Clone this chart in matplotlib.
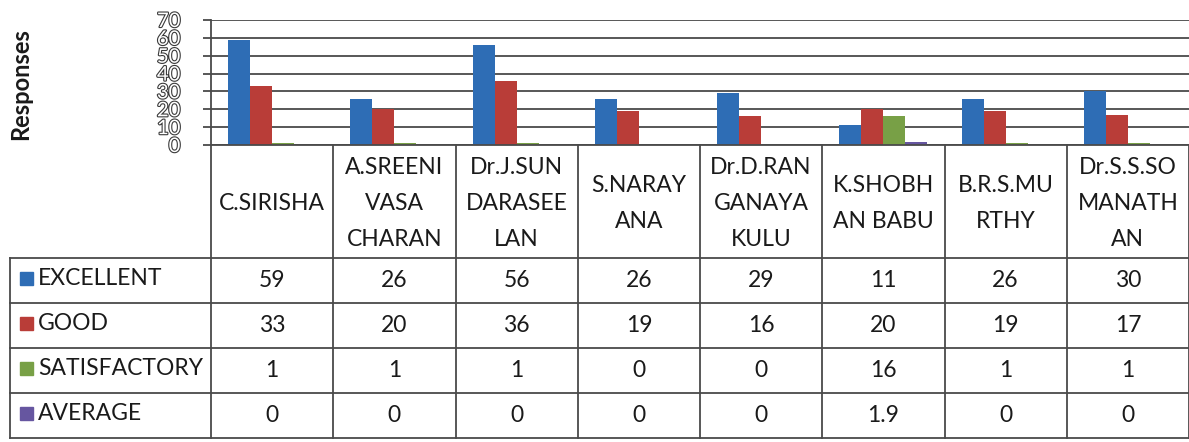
import numpy as np
import matplotlib
matplotlib.use('Agg')
import matplotlib.pyplot as plt
import matplotlib.patheffects as pe

faculty = ['C.SIRISHA', 'A.SREENI\nVASA\nCHARAN', 'Dr.J.SUN\nDARASEE\nLAN', 'S.NARAY\nANA',
           'Dr.D.RAN\nGANAYA\nKULU', 'K.SHOBH\nAN BABU', 'B.R.S.MU\nRTHY', 'Dr.S.S.SO\nMANATH\nAN']
series = ['EXCELLENT', 'GOOD', 'SATISFACTORY', 'AVERAGE']
excellent = [59, 26, 56, 26, 29, 11, 26, 30]
good = [33, 20, 36, 19, 16, 20, 19, 17]
satisfactory = [1, 1, 1, 0, 0, 16, 1, 1]
average = [0, 0, 0, 0, 0, 1.9, 0, 0]
yticks = [0, 10, 20, 30, 40, 50, 60, 70]

colors = ['#2E6DB5', '#B93D38', '#78A046', '#6656A0']
line_col = '#4a4a4a'
txt_col = '#1a1a1a'
FONT = 'Lato'

W, H = 1189, 442
x0, x1 = 211, 1189          # plot area left/right (px)
y_top, y_zero = 20, 145     # plot area top/bottom (px)
hdr_bot = 258               # bottom of header row
row_h = 45
leg_left = 10

fig = plt.figure(figsize=(W / 100, H / 100), dpi=100)

# bar chart
ax = fig.add_axes([x0 / W, 1 - y_zero / H, (x1 - x0) / W, (y_zero - y_top) / H])
vals = [excellent, good, satisfactory, average]
xs = np.arange(len(faculty))
bw = 0.18
for i, v in enumerate(vals):
    ax.bar(xs + (i - 1.5) * bw, v, bw, color=colors[i], zorder=3)
ax.set_xlim(-0.5, len(faculty) - 0.5)
ax.set_ylim(0, 70)
ax.set_yticks(yticks)
ax.set_xticks([])
ax.grid(axis='y', color=line_col, linewidth=1.3, zorder=0)
for s in ['top', 'right', 'bottom']:
    ax.spines[s].set_visible(False)
ax.spines['left'].set_color(line_col)
ax.spines['left'].set_linewidth(1.3)
ax.tick_params(axis='y', length=6, width=1.3, color=line_col, pad=16)
for lab in ax.get_yticklabels():
    lab.set_fontfamily(FONT)
    lab.set_fontsize(14.5)
    lab.set_color('white')
    lab.set_path_effects([pe.withStroke(linewidth=1.6, foreground='#3a3a3a')])

fig.text(21 / W, 1 - 84 / H, 'Responses', rotation=90, ha='center', va='center',
         fontsize=17, fontweight='bold', family=FONT, color=txt_col)

# data table drawn underneath in pixel coordinates
tab = fig.add_axes([0, 0, 1, 1])
tab.set_xlim(0, W)
tab.set_ylim(H, 0)
tab.axis('off')
tab.patch.set_alpha(0)

ncol = len(faculty)
cw = (x1 - x0) / ncol
col_edges = [x0 + k * cw for k in range(ncol + 1)]
row_edges = [hdr_bot + k * row_h for k in range(len(series) + 1)]
lw = 1.3

# vertical lines
for k, xe in enumerate(col_edges):
    tab.plot([xe, xe], [y_zero, row_edges[-1]], color=line_col, lw=lw)
tab.plot([leg_left, leg_left], [hdr_bot, row_edges[-1]], color=line_col, lw=lw)
# horizontal lines
tab.plot([x0, x1], [y_zero, y_zero], color=line_col, lw=lw)
for ye in row_edges:
    tab.plot([leg_left, x1], [ye, ye], color=line_col, lw=lw)

fs = 16.5
# header names
for k, name in enumerate(faculty):
    tab.text(col_edges[k] + cw / 2, (y_zero + hdr_bot) / 2 + 2, name, ha='center', va='center',
             fontsize=fs, family=FONT, color=txt_col, linespacing=1.9)

# rows
for r, (sname, v) in enumerate(zip(series, vals)):
    yc = row_edges[r] + row_h / 2
    tab.add_patch(plt.Rectangle((20, yc - 9), 13, 13, color=colors[r]))
    tab.text(38, yc - 2, sname, ha='left', va='center', fontsize=fs, family=FONT, color=txt_col)
    for k, val in enumerate(v):
        txt = str(val) if isinstance(val, float) else str(int(val))
        tab.text(col_edges[k] + cw / 2, yc, txt, ha='center', va='center',
                 fontsize=fs, family=FONT, color=txt_col)

fig.savefig('out.png', dpi=100)
